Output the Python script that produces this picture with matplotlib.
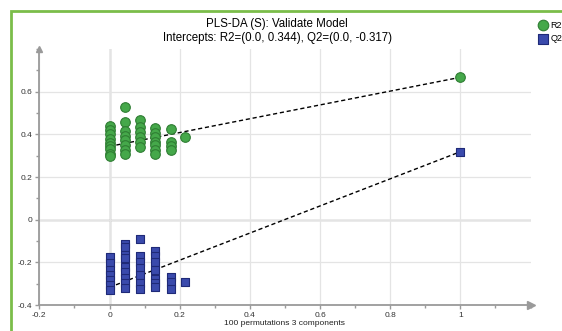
import matplotlib.pyplot as plt
from matplotlib.patches import Rectangle
from matplotlib.ticker import MultipleLocator

plt.rcParams['font.family'] = ['Liberation Sans', 'DejaVu Sans']

# R2 permutation values (x = correlation, y = R2)
r2_x = [0.0] * 9 + [0.045] * 8 + [0.086] * 6 + [0.130] * 7 + [0.174] * 4 + [0.216] + [1.0]
r2_y = [0.44, 0.42, 0.40, 0.38, 0.36, 0.345, 0.33, 0.31, 0.30,
        0.527, 0.46, 0.417, 0.395, 0.374, 0.35, 0.327, 0.308,
        0.468, 0.437, 0.413, 0.389, 0.366, 0.342,
        0.428, 0.405, 0.389, 0.366, 0.35, 0.327, 0.308,
        0.425, 0.366, 0.347, 0.327,
        0.386,
        0.668]

# Q2 permutation values
q2_x = [0.0] * 7 + [0.045] * 9 + [0.086] * 7 + [0.130] * 7 + [0.174] * 3 + [0.216] + [1.0]
q2_y = [-0.176, -0.205, -0.236, -0.259, -0.283, -0.306, -0.33,
        -0.114, -0.13, -0.165, -0.181, -0.22, -0.244, -0.275, -0.298, -0.322,
        -0.09, -0.17, -0.197, -0.228, -0.259, -0.295, -0.326,
        -0.145, -0.17, -0.197, -0.236, -0.28, -0.295, -0.314,
        -0.27, -0.29, -0.326,
        -0.29,
        0.319]

r2_intercept = 0.344
q2_intercept = -0.317

fig = plt.figure(figsize=(5.62, 3.31), dpi=100)
ax = fig.add_axes([0.070, 0.0785, 0.874, 0.773])

ax.set_xlim(-0.2, 1.2)
ax.set_ylim(-0.4, 0.8)

# Gitter und Nulllinien
ax.xaxis.set_major_locator(MultipleLocator(0.2))
ax.xaxis.set_minor_locator(MultipleLocator(0.1))
ax.yaxis.set_major_locator(MultipleLocator(0.2))
ax.yaxis.set_minor_locator(MultipleLocator(0.1))
ax.grid(True, which='major', color='#e4e4e4', lw=0.9)
ax.axhline(0, color='#9a9a9a', lw=1.0, zorder=1)
ax.axvline(0, color='#9a9a9a', lw=1.0, zorder=1)

ax.set_xticks([-0.2, 0, 0.2, 0.4, 0.6, 0.8, 1.0])
ax.set_xticklabels(['-0.2', '0', '0.2', '0.4', '0.6', '0.8', '1'])
ax.set_yticks([-0.4, -0.2, 0, 0.2, 0.4, 0.6])
ax.set_yticklabels(['-0.4', '-0.2', '0', '0.2', '0.4', '0.6'])

for s in ['top', 'right']:
    ax.spines[s].set_visible(False)
for s in ['left', 'bottom']:
    ax.spines[s].set_color('#9a9a9a')
    ax.spines[s].set_linewidth(1.3)
ax.tick_params(which='both', colors='#9a9a9a', labelcolor='#333333', labelsize=6,
               length=3, width=1, pad=2)
ax.tick_params(which='minor', length=2)

# Pfeile an den Achsen
ax.plot(1, 0, '>', color='#9a9a9a', markersize=6, transform=ax.transAxes, clip_on=False)
ax.plot(0, 1, '^', color='#9a9a9a', markersize=5, transform=ax.transAxes, clip_on=False)

# Regressionslinien
ax.plot([0, 1], [r2_intercept, r2_y[-1]], '--', color='black', lw=1.0, dashes=(3, 2), zorder=3)
ax.plot([0, 1], [q2_intercept, q2_y[-1]], '--', color='black', lw=1.0, dashes=(3, 2), zorder=3)

ax.scatter(r2_x, r2_y, s=48, marker='o', facecolor='#45a84a', edgecolor='#2f7d33',
           lw=0.8, zorder=4, label='R2')
ax.scatter(q2_x, q2_y, s=40, marker='s', facecolor='#3a4aac', edgecolor='#1f2a78',
           lw=0.8, zorder=4, label='Q2')

ax.set_xlabel('100 permutations 3 components', fontsize=6, color='#222222', labelpad=1)

fig.text(0.493, 0.929, 'PLS-DA (S): Validate Model', ha='center', va='center', fontsize=8.3)
fig.text(0.493, 0.886, 'Intercepts: R2=(0.0, 0.344), Q2=(0.0, -0.317)', ha='center',
         va='center', fontsize=8.3)

fig.legend(loc='upper left', bbox_to_anchor=(0.951, 0.948), frameon=False, fontsize=6.5,
           handletextpad=0.15, borderaxespad=0, labelspacing=0.45, handlelength=1.2,
           markerscale=1.1)

fig.add_artist(Rectangle((11 / 562, -0.1), 1.2, 1.1 - 11 / 331, fill=False,
                         edgecolor='#7bbd4a', lw=2, transform=fig.transFigure))

fig.savefig('out.png', dpi=100)
